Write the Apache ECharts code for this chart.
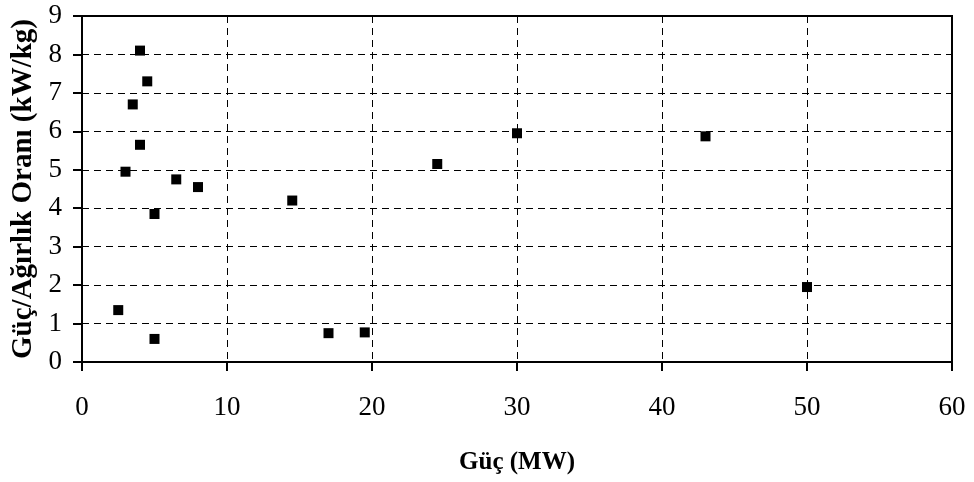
<!DOCTYPE html>
<html>
<head>
<meta charset="utf-8">
<script src="https://cdn.jsdelivr.net/npm/echarts@6/dist/echarts.min.js"></script>
<style>
  html, body { margin: 0; padding: 0; background: #fff; }
  #chart { width: 974px; height: 482px; }
</style>
</head>
<body>
<div id="chart"></div>
<script>
// güç (MW) ve güç/ağırlık oranı (kW/kg)
const powerMW = [4, 4.5, 3.5, 4, 3, 6.5, 8, 5, 2.5, 5, 17, 19.5, 14.5, 24.5, 30, 43, 50]
const ratio = [8.1, 7.3, 6.7, 5.65, 4.95, 4.75, 4.55, 3.85, 1.35, 0.6, 0.75, 0.77, 4.2, 5.15, 5.95, 5.87, 1.95]
const xTicks = [0, 10, 20, 30, 40, 50, 60]
const yTicks = [0, 1, 2, 3, 4, 5, 6, 7, 8, 9]

const points = powerMW.map((x, i) => [x, ratio[i]])

const myChart = echarts.init(document.getElementById('chart'))

const fontFamily = '"Liberation Serif", "Times New Roman", serif'

const option = {
  animation: false,
  grid: {
    left: 82,
    right: 22,
    top: 16,
    bottom: 120,
    show: true,
    borderColor: '#000',
    borderWidth: 2
  },
  xAxis: {
    type: 'value',
    min: xTicks[0],
    max: xTicks[xTicks.length - 1],
    interval: 10,
    name: 'Güç (MW)',
    nameLocation: 'middle',
    nameGap: 88,
    nameTextStyle: { fontFamily, fontSize: 25, fontWeight: 'bold', color: '#000' },
    axisLine: { lineStyle: { color: '#000', width: 2 } },
    axisTick: { show: true, length: 9, lineStyle: { color: '#000', width: 2 } },
    axisLabel: { fontFamily, fontSize: 27, color: '#000', margin: 32 },
    splitLine: { show: true, lineStyle: { color: '#000', type: [7, 5], width: 1 } }
  },
  yAxis: {
    type: 'value',
    min: yTicks[0],
    max: yTicks[yTicks.length - 1],
    interval: 1,
    name: 'Güç/Ağırlık Oranı (kW/kg)',
    nameLocation: 'middle',
    nameGap: 44,
    nameTextStyle: { fontFamily, fontSize: 29, fontWeight: 'bold', color: '#000' },
    axisLine: { show: true, lineStyle: { color: '#000', width: 2 } },
    axisTick: { show: true, length: 9, lineStyle: { color: '#000', width: 2 } },
    axisLabel: { fontFamily, fontSize: 27, color: '#000', margin: 20 },
    splitLine: { show: true, lineStyle: { color: '#000', type: [7, 5], width: 1 } }
  },
  series: [
    {
      type: 'scatter',
      symbol: 'rect',
      symbolSize: 10,
      itemStyle: { color: '#000', opacity: 1 },
      data: points
    }
  ]
}

myChart.setOption(option)
</script>
</body>
</html>
